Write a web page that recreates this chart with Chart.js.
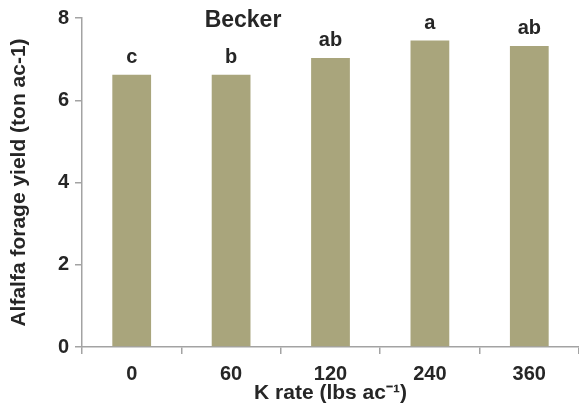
<!DOCTYPE html>
<html>
<head>
<meta charset="utf-8">
<script src="https://cdn.jsdelivr.net/npm/chart.js@4/dist/chart.umd.min.js"></script>
<style>
  html, body { margin: 0; padding: 0; background: #ffffff; }
  #wrap { width: 579px; height: 410px; position: relative; }
</style>
</head>
<body>
<div id="wrap"><canvas id="chart"></canvas></div>
<script>
// K application rates (lbs ac-1)
const kRates = ['0', '60', '120', '240', '360'];
// Alfalfa forage yield (ton ac-1)
const yields = [6.62, 6.62, 7.03, 7.45, 7.32];
// Mean separation letters
const letters = ['c', 'b', 'ab', 'a', 'ab'];
// Y axis ticks
const yTicks = [0, 2, 4, 6, 8];

const siteName = 'Becker';
const FONT = "'Liberation Sans', Arial, sans-serif";
const TEXT = '#262626';
const AXIS = '#a3a3a3';
const BAR = '#a9a57c';

// Letters above bars and site name in the plot
const annotate = {
  id: 'annotate',
  afterDatasetsDraw(chart) {
    const ctx = chart.ctx;
    const meta = chart.getDatasetMeta(0);
    ctx.save();
    ctx.fillStyle = TEXT;
    ctx.font = 'bold 20px ' + FONT;
    ctx.textAlign = 'center';
    ctx.textBaseline = 'alphabetic';
    meta.data.forEach((bar, i) => {
      ctx.fillText(letters[i], bar.x, bar.y - 12);
    });
    ctx.font = 'bold 23px ' + FONT;
    ctx.fillText(siteName, 243, 27);
    ctx.restore();
  }
};

new Chart(document.getElementById('chart'), {
  type: 'bar',
  data: {
    labels: kRates,
    datasets: [{
      data: yields,
      backgroundColor: BAR,
      borderWidth: 0,
      categoryPercentage: 1,
      barPercentage: 0.39
    }]
  },
  options: {
    responsive: true,
    maintainAspectRatio: false,
    animation: false,
    layout: { padding: { top: 18, right: 0, left: 0, bottom: 0 } },
    plugins: {
      legend: { display: false },
      tooltip: { enabled: false }
    },
    scales: {
      x: {
        offset: true,
        grid: {
          offset: true,
          drawOnChartArea: false,
          color: AXIS,
          lineWidth: 1.5,
          tickLength: 7
        },
        border: { color: AXIS, width: 1.5 },
        ticks: {
          color: TEXT,
          padding: 8,
          font: { family: FONT, size: 20, weight: 'bold' }
        },
        title: {
          display: true,
          text: 'K rate (lbs ac⁻¹)',
          color: TEXT,
          padding: { top: 0, bottom: 4 },
          font: { family: FONT, size: 21, weight: 'bold' }
        },
        afterFit(scale) { scale.height = 63; }
      },
      y: {
        min: 0,
        max: 8,
        afterBuildTicks(scale) { scale.ticks = yTicks.map(v => ({ value: v })); },
        grid: {
          drawOnChartArea: false,
          color: AXIS,
          lineWidth: 1.5,
          tickLength: 7
        },
        border: { color: AXIS, width: 1.5 },
        ticks: {
          color: TEXT,
          padding: 6,
          font: { family: FONT, size: 20, weight: 'bold' }
        },
        title: {
          display: true,
          text: 'Alfalfa forage yield (ton ac-1)',
          color: TEXT,
          padding: { top: 7, bottom: 0 },
          font: { family: FONT, size: 21, weight: 'bold' }
        },
        afterFit(scale) { scale.width = 82; }
      }
    }
  },
  plugins: [annotate]
});
</script>
</body>
</html>
